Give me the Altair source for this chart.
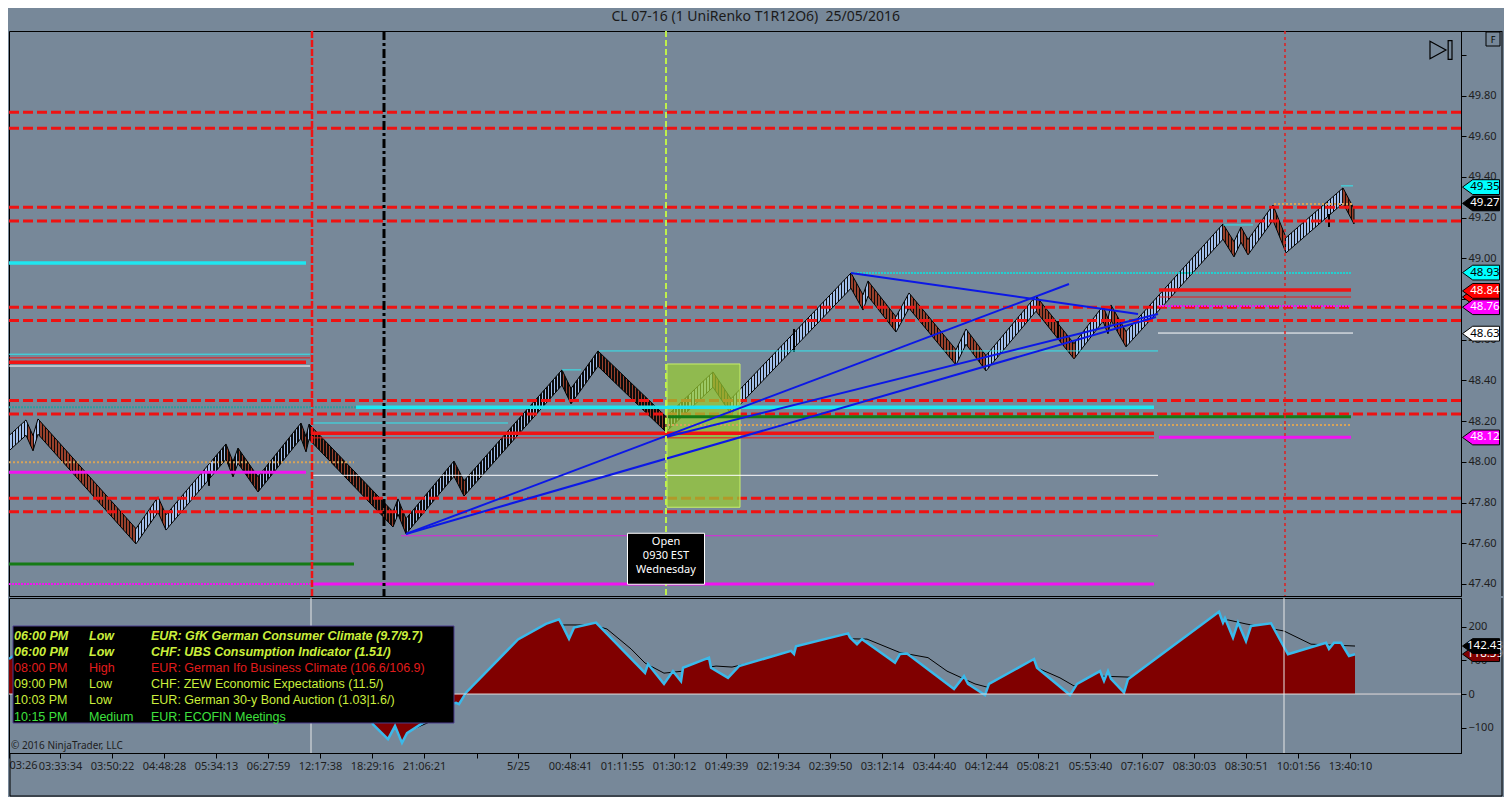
import altair as alt
import pandas as pd

FONT = "Noto Sans"
TFONT = "Liberation Sans"
BG = "#778899"

# ---------------- data (x = bar number, y = price) ----------------
# UniRenko swing pivots: alternating swing low / swing high closes
pivot_bar = [0, 5.67, 8.0, 9.67, 42.33, 49.67, 52.33, 72.33, 74.67, 76.33, 83.0, 97.33, 99.0, 100.0,
             128.0, 129.67, 132.33, 148.33, 151.67, 184.33, 187.33, 196.33, 219.0, 234.67, 240.67,
             280.67, 284.67, 286.33, 295.67, 300.0, 315.67, 319.0, 325.67, 342.33, 355.0, 364.67,
             366.33, 367.33, 372.33, 404.67, 408.33, 410.67, 413.0, 421.33, 425.67, 444.67, 448.33]
pivot_price = [48.054, 48.206, 48.054, 48.211, 47.597, 47.828, 47.665, 48.088, 47.926, 48.068,
               47.852, 48.191, 48.049, 48.186, 47.680, 47.818, 47.646, 48.004, 47.832, 48.452,
               48.285, 48.545, 48.147, 48.442, 48.235, 48.928, 48.746, 48.889, 48.638, 48.830,
               48.476, 48.653, 48.447, 48.815, 48.506, 48.766, 48.629, 48.771, 48.565, 49.169,
               49.007, 49.154, 49.017, 49.262, 49.027, 49.346, 49.169]
brick_height = 0.075

wick_bar = [66.67, 261.67, 349.67, 440.0]
wick_low = [47.882, 48.540, 48.604, 49.154]
wick_high = [47.955, 48.653, 48.692, 49.218]

# full-width dashed levels
dashed_levels = [49.718, 49.639, 49.251, 49.184, 48.760, 48.694, 48.301, 48.235, 47.821, 47.755]

# partial levels: (price, from bar, to bar)
cyan_thick = [(48.977, 0, 99), (48.268, 115.67, 381.67)]
cyan_thin = [(48.529, 0, 100.33), (48.191, 100.67, 166.33), (48.545, 196.67, 383),
             (48.452, 184.33, 190.67), (49.356, 444, 448), (49.164, 404.67, 414.67)]
cyan_dotted = [(48.928, 280.67, 447.33)]
teal_dotted = [(48.268, 0, 115.67)]
red_thick = [(48.489, 0, 99), (48.141, 100.67, 381.67), (48.845, 383.33, 447.33)]
red_thin = [(48.511, 0, 100.33), (48.118, 100.67, 381.67), (48.810, 383.33, 447.33)]
white_thin = [(48.471, 0, 100.33), (47.934, 100.67, 383), (48.633, 383, 448)]
magenta_thick = [(47.949, 0, 99), (47.400, 100.67, 381.67), (48.121, 383.33, 447.33)]
magenta_dotted = [(47.400, 0, 100.67), (48.766, 383.33, 447.33)]
magenta_thin = [(47.637, 130.67, 383)]
green_thick = [(47.498, 0, 115), (48.222, 219.67, 447.33)]
tan_dotted = [(47.998, 0, 115), (48.181, 219.67, 447.33), (49.267, 421.67, 448.33)]

# trend lines: (bar0, price0, bar1, price1)
trend_lines = [(132.33, 47.646, 353.33, 48.874), (132.33, 47.646, 382.33, 48.712),
               (219.0, 48.122, 383.0, 48.727), (280.67, 48.928, 376.33, 48.727)]

# vertical markers
session_red = [101.0]
session_black = [125.0]
open_bar = [219.0]
session_red_dotted = [425.33]
lower_white = [100.67, 425.0]

# opening-range box
box_bar = (219.33, 243.67)
box_price = (47.777, 48.481)

open_label_bar = 219.0
open_label_price = 47.524
open_label_lines = ["Open", "0930 EST", "Wednesday"]

# price markers on the right axis (drawn in this order; later ones on top)
tag_price = [49.35, 49.27, 48.93, 48.81, 48.84, 48.76, 48.63, 48.12]
tag_text = ["49.35", "49.27", "48.93", "", "48.84", "48.76", "48.63", "48.12"]
tag_kind = ["high", "last", "level", "r2", "r1", "pp", "session", "vwap"]

# lower panel oscillator
osc_bar = [0, 4, 9.67, 17.33, 27.33, 35.67, 42.33, 49.67, 52.33, 64, 72.33, 76.33, 83, 97.33, 100.67,
           110.67, 119, 121.33, 126.33, 128.67, 131, 132.67, 140.67, 147.33, 149, 150, 152.33,
           169.67, 179, 183.33, 184.67, 186.67, 188.33, 195.67, 212, 213, 218.33, 221.33, 224,
           224.67, 233.33, 234, 239.67, 243.33, 260.67, 261.67, 262.33, 279.67, 280.33, 282.67,
           284.33, 295.33, 297, 299.33, 315, 318.33, 319.67, 325.33, 326.67, 341.67, 342.67,
           353.67, 356, 363.67, 365, 366.33, 367.33, 371.67, 373, 403.33, 404.67, 405.33, 408,
           409.67, 412.33, 414, 420.67, 426.33, 439, 440, 441.67, 444, 446.67, 448.67]
osc_val = [104, 130, 150, 70, 0, -50, -80, -30, -55, 40, 90, 70, 20, 130, 100,
           30, -40, -90, -134, -95, -145, -116, -70, -30, -26, -30, 4,
           162, 208, 222, 200, 164, 197, 212, 63, 89, 30, 68, 38,
           78, 108, 78, 48, 83, 128, 119, 142, 180, 168, 148,
           163, 93, 119, 120, 15, 53, 30, -3, 30, 104, 78,
           -3, 30, 68, 39, 68, 45, 4, 44, 244, 212, 225, 167,
           212, 157, 202, 210, 118, 152, 134, 152, 152, 113, 118]
ma_bar = [0, 17.33, 42.33, 64, 97.33, 119, 132, 139.67, 154, 170.67, 184.67, 194.67, 199.33, 207.33,
          212, 218.33, 224.67, 235.67, 241, 260.67, 279.67, 286, 297, 306.33, 312.67, 322, 326.67,
          342.67, 350.33, 355, 364.33, 374, 384, 403.33, 406.33, 412.33, 425, 434, 448.67]
ma_val = [90, 120, 10, 10, 90, 20, -115, -85, 10, 130, 205, 205, 193, 134,
          92, 62, 68, 83, 80, 120, 164, 163, 123, 108, 68, 30, 19,
          78, 48, 24, 53, 50, 105, 215, 220, 208, 187, 148, 142.43]
osc_tag_val = [118.39, 142.43]
osc_tag_text = ["118.39", "142.43"]
osc_tag_kind = ["osc", "ma"]

# x-axis ticks
tick_bars = [0, 17, 34.33, 51.67, 69, 86.33, 103.67, 121, 138.33, 156, 169.67, 187, 204.33, 221.67,
             239, 256.33, 273.67, 291, 308.33, 325.67, 343, 360.33, 377.67, 395, 412.33, 429.67, 447]
tick_labels = ["03:26", "03:33:34", "03:50:22", "04:48:28", "05:34:13", "06:27:59", "12:17:38",
               "18:29:16", "21:06:21", "", "5/25", "00:48:41", "01:11:55", "01:30:12", "01:49:39",
               "02:19:34", "02:39:50", "03:12:14", "03:44:40", "04:12:44", "05:08:21", "05:53:40",
               "07:16:07", "08:30:03", "08:30:51", "10:01:56", "13:40:10"]

# economic calendar
ev_time = ["06:00 PM", "06:00 PM", "08:00 PM", "09:00 PM", "10:03 PM", "10:15 PM"]
ev_impact = ["Low", "Low", "High", "Low", "Low", "Medium"]
ev_text = ["EUR: GfK German Consumer Climate (9.7/9.7)",
           "CHF: UBS Consumption Indicator (1.51/)",
           "EUR: German Ifo Business Climate (106.6/106.9)",
           "CHF: ZEW Economic Expectations (11.5/)",
           "EUR: German 30-y Bond Auction (1.03|1.6/)",
           "EUR: ECOFIN Meetings"]

# ---------------- layout & scales ----------------
W = 1452
H_MAIN = 565
H_LOW = 155
FRAME_R = 1493
FRAME_B = 198
XSCALE = alt.Scale(domain=[0, 484], nice=False, zero=False)
YSCALE = alt.Scale(domain=[47.341, 50.117], nice=False, zero=False)
OSCALE = alt.Scale(domain=[-175, 285], nice=False, zero=False)

axis_style = dict(tickColor="black", tickSize=5, domainColor="black", domain=True, labelColor="#1e1e1e",
                  labelFont=FONT, labelFontSize=11, grid=False, title=None, labelOverlap=False)
YAXIS = alt.Axis(orient="right", values=[round(47.4 + 0.2 * i, 1) for i in range(14)],
                 labelExpr="datum.value > 49.9 ? '' : format(datum.value, '.2f')", labelPadding=2,
                 **axis_style)
OAXIS = alt.Axis(orient="right", values=[-100, 0, 100, 200], format="d", labelPadding=2, **axis_style)
# first label is drawn separately, left-aligned at the panel edge
lbl_expr = ("[" + ",".join(repr(s) for s in [""] + tick_labels[1:]) + "][indexof(["
            + ",".join(str(b) for b in tick_bars) + "], datum.value)]")
XAXIS = alt.Axis(orient="bottom", values=tick_bars, labelExpr=lbl_expr, labelPadding=2, **axis_style)


def xm(f):
    return alt.X(f, type="quantitative", scale=XSCALE, axis=None)


def xl(f):
    return alt.X(f, type="quantitative", scale=XSCALE, axis=XAXIS)


def ym(f):
    return alt.Y(f, type="quantitative", scale=YSCALE, axis=YAXIS)


def yl(f):
    return alt.Y(f, type="quantitative", scale=OSCALE, axis=OAXIS)


one = pd.DataFrame({"k": [0]})

# ---------------- main panel ----------------
main_layers = []

# renko band with hatch
tops, bots = [], []
for i, p in enumerate(pivot_price):
    if i % 2 == 0:
        tops.append(p + brick_height); bots.append(p)
    else:
        tops.append(p); bots.append(p - brick_height)
renko_df = pd.DataFrame({"bar": pivot_bar, "top": tops, "bot": bots})
UP_FILL, DN_FILL, HATCH = "#a2bfea", "#98402c", "#0c0c0c"
b0, b1 = pivot_bar[0], pivot_bar[-1]
n = int(round(b1 - b0))
stops = []
j = 0
for k in range(n):
    c = b0 + (k + 0.5) * (b1 - b0) / n
    while j < len(pivot_bar) - 2 and pivot_bar[j + 1] <= c:
        j += 1
    fill = UP_FILL if j % 2 == 0 else DN_FILL
    o0, o1, o2 = round(k / n, 6), round((k + 0.45) / n, 6), round((k + 1) / n, 6)
    stops += [{"offset": o0, "color": HATCH}, {"offset": o1, "color": HATCH},
              {"offset": o1, "color": fill}, {"offset": o2, "color": fill}]
grad = {"gradient": "linear", "x1": 0, "y1": 0, "x2": 1, "y2": 0, "stops": stops}
main_layers.append(alt.Chart(renko_df).mark_area(fill=grad, stroke="black", strokeWidth=1, opacity=1, clip=True)
                   .encode(x=xm("bar"), y=ym("top"), y2="bot"))

wick_df = pd.DataFrame({"bar": wick_bar, "lo": wick_low, "hi": wick_high})
main_layers.append(alt.Chart(wick_df).mark_rule(color="black", strokeWidth=2, clip=True)
                   .encode(x=xm("bar"), y=ym("lo"), y2="hi"))

main_layers.append(alt.Chart(pd.DataFrame({"price": dashed_levels}))
                   .mark_rule(color="#ee1212", strokeWidth=3, strokeDash=[10, 4], clip=True)
                   .encode(y=ym("price")))

box_df = pd.DataFrame({"b0": [box_bar[0]], "b1": [box_bar[1]], "p0": [box_price[0]], "p1": [box_price[1]]})
main_layers.append(alt.Chart(box_df).mark_rect(fill="#9acd32", fillOpacity=0.72, stroke="#c8f06a",
                                               strokeWidth=1, clip=True)
                   .encode(x=xm("b0"), x2="b1", y=ym("p0"), y2="p1"))


def seg_layer(segs, color, width, dash=None):
    df = pd.DataFrame(segs, columns=["price", "b0", "b1"])
    kw = dict(color=color, strokeWidth=width, clip=True)
    if dash:
        kw["strokeDash"] = dash
    return alt.Chart(df).mark_rule(**kw).encode(x=xm("b0"), x2="b1", y=ym("price"))


main_layers += [
    seg_layer(teal_dotted, "#2a9d9d", 2, [2, 1]),
    seg_layer(tan_dotted, "#d9a458", 2, [2, 2]),
    seg_layer(green_thick, "#157a15", 3),
    seg_layer(magenta_thin, "#e020e0", 1),
    seg_layer(magenta_dotted, "#f014f0", 2, [2, 1]),
    seg_layer(magenta_thick, "#f014f0", 3),
    seg_layer(white_thin, "#ffffff", 1),
    seg_layer(red_thin, "#f01818", 1),
    seg_layer(red_thick, "#f01414", 3.5),
    seg_layer(cyan_dotted, "#22d0d0", 2, [2, 1]),
    seg_layer(cyan_thin, "#30e8f0", 1),
    seg_layer(cyan_thick, "#1ee6f0", 3.5),
]

tl_df = pd.DataFrame(trend_lines, columns=["b0", "p0", "b1", "p1"])
main_layers.append(alt.Chart(tl_df).mark_rule(color="#0c18e6", strokeWidth=2, clip=True)
                   .encode(x=xm("b0"), y=ym("p0"), x2="b1", y2="p1"))


def vline(bars, color, width, dash=None, xf=xm):
    kw = dict(color=color, strokeWidth=width, clip=True)
    if dash:
        kw["strokeDash"] = dash
    return alt.Chart(pd.DataFrame({"bar": bars})).mark_rule(**kw).encode(x=xf("bar"))


main_layers += [
    vline(session_red, "#ee1414", 2.5, [7, 2]),
    vline(session_black, "#000000", 3, [9, 3, 3, 3]),
    vline(open_bar, "#bff04a", 2, [6, 3]),
    vline(session_red_dotted, "#e02020", 1.5, [3, 3]),
]

# open label
BOX_PATH = "M-1,-0.662L1,-0.662L1,0.662L-1,0.662Z"
ol_df = pd.DataFrame({"bar": [open_label_bar], "price": [open_label_price], "txt": [open_label_lines]})
main_layers.append(alt.Chart(ol_df).mark_point(shape=BOX_PATH, size=77 * 77, filled=True, fill="black",
                                               stroke="white", strokeWidth=1, opacity=1)
                   .encode(x=xm("bar"), y=ym("price")))
main_layers.append(alt.Chart(ol_df).mark_text(color="white", font=FONT, fontSize=11, lineHeight=14,
                                              baseline="middle", align="center", dy=-17)
                   .encode(x=xm("bar"), y=ym("price"), text="txt"))

# price tags, each drawn with its text before the next one
TAG_PATH = "M-1,0L-0.45,-0.4L1,-0.4L1,0.4L-0.45,0.4Z"
TAG_FILL = {"high": "#00ffff", "last": "#000000", "level": "#00ffff", "r2": "#ff0000", "r1": "#ff0000",
            "pp": "#ff00ff", "session": "#ffffff", "vwap": "#ff00ff", "osc": "#800000", "ma": "#000000"}
TAG_TEXT = {"high": "#000000", "last": "#ffffff", "level": "#000000", "r2": "#ffffff", "r1": "#ffffff",
            "pp": "#ffffff", "session": "#000000", "vwap": "#ffffff", "osc": "#ffffff", "ma": "#ffffff"}


def tag_layers(vals, texts, kinds_, yfun, field):
    out = []
    for v, t, kd in zip(vals, texts, kinds_):
        d = pd.DataFrame({field: [v], "txt": [t]})
        out.append(alt.Chart(d).mark_point(shape=TAG_PATH, size=37 * 37, filled=True, fill=TAG_FILL[kd],
                                           stroke="black", strokeWidth=1, opacity=1)
                   .encode(x=alt.value(1472), y=yfun(field)))
        if t:
            out.append(alt.Chart(d).mark_text(font=FONT, fontSize=11.5, baseline="middle", align="center",
                                              color=TAG_TEXT[kd])
                       .encode(x=alt.value(1476), y=yfun(field), text="txt:N"))
    return out


main_layers += tag_layers(tag_price, tag_text, tag_kind, ym, "price")

# icons and frame
PLAY_PATH = "M-1,-0.8L0.45,0L-1,0.8Z M0.65,-0.85L1,-0.85L1,0.85L0.65,0.85Z"
main_layers.append(alt.Chart(one).mark_point(shape=PLAY_PATH, size=22 * 22, filled=False, color="black",
                                             strokeWidth=1.2, opacity=1)
                   .encode(x=alt.value(1432), y=alt.value(19)))
main_layers.append(alt.Chart(one).mark_point(shape="square", size=14 * 14, filled=False, color="black",
                                             strokeWidth=1, opacity=1)
                   .encode(x=alt.value(1484), y=alt.value(8)))
main_layers.append(alt.Chart(pd.DataFrame({"t": ["F"]})).mark_text(font=FONT, fontSize=9, color="black")
                   .encode(x=alt.value(1484), y=alt.value(8.5), text="t:N"))
main_layers.append(alt.Chart(one).mark_rule(color="black", strokeWidth=1)
                   .encode(x=alt.value(W), x2=alt.value(FRAME_R), y=alt.value(0.5)))
main_layers.append(alt.Chart(one).mark_rule(color="black", strokeWidth=1)
                   .encode(x=alt.value(FRAME_R), y=alt.value(0), y2=alt.value(H_MAIN)))

main = alt.layer(*main_layers).properties(width=W, height=H_MAIN)

# ---------------- lower panel ----------------
low_layers = []
osc_df = pd.DataFrame({"bar": osc_bar, "v": osc_val})
ma_df = pd.DataFrame({"bar": ma_bar, "v": ma_val})
low_layers.append(alt.Chart(ma_df).mark_line(color="black", strokeWidth=1, clip=True)
                  .encode(x=xl("bar"), y=yl("v")))
low_layers.append(alt.Chart(osc_df).mark_area(color="#800000", opacity=1, clip=True)
                  .encode(x=xl("bar"), y=yl("v"), y2=alt.datum(0)))
low_layers.append(alt.Chart(osc_df).mark_line(color="#3bb9ea", strokeWidth=2.5, clip=True)
                  .encode(x=xl("bar"), y=yl("v")))
low_layers.append(alt.Chart(one).mark_rule(color="#e4dcdc", strokeWidth=1, clip=True).encode(y=alt.datum(0)))
low_layers.append(vline(lower_white, "#e8e8e8", 1, xf=xl))

low_layers += tag_layers(osc_tag_val, osc_tag_text, osc_tag_kind, yl, "v")

# calendar box
low_layers.append(alt.Chart(one).mark_rect(fill="black", stroke="#4a3c8c", strokeWidth=1)
                  .encode(x=alt.value(4), x2=alt.value(445), y=alt.value(28), y2=alt.value(125)))
impact_color = {"Low": "#cbef3c", "High": "#e01c1c", "Medium": "#3ee03e"}
for i in range(len(ev_time)):
    row = pd.DataFrame({"t": [ev_time[i]], "imp": [ev_impact[i]], "ev": [ev_text[i]]})
    style = dict(font=TFONT, fontSize=12.5, color=impact_color[ev_impact[i]], baseline="middle", align="left")
    if i < 2:
        style.update(fontStyle="italic", fontWeight="bold")
    yy = 38 + 16.1 * i
    for col, xx in (("t", 5), ("imp", 80), ("ev", 142)):
        low_layers.append(alt.Chart(row).mark_text(**style)
                          .encode(x=alt.value(xx), y=alt.value(yy), text=col + ":N"))

low_layers.append(alt.Chart(pd.DataFrame({"t": ["\u00a9 2016 NinjaTrader, LLC"]}))
                  .mark_text(font=FONT, fontSize=10, color="#1e1e1e", align="left", baseline="middle")
                  .encode(x=alt.value(2), y=alt.value(148), text="t:N"))
low_layers.append(alt.Chart(pd.DataFrame({"t": [tick_labels[0]]}))
                  .mark_text(font=FONT, fontSize=11, color="#1e1e1e", align="left", baseline="top")
                  .encode(x=alt.value(0.5), y=alt.value(H_LOW + 7), text="t:N"))

# outer frame
low_layers.append(alt.Chart(one).mark_rule(color="black", strokeWidth=1)
                  .encode(x=alt.value(FRAME_R), y=alt.value(0), y2=alt.value(FRAME_B)))
low_layers.append(alt.Chart(one).mark_rule(color="black", strokeWidth=1)
                  .encode(x=alt.value(1), x2=alt.value(FRAME_R), y=alt.value(FRAME_B)))
low_layers.append(alt.Chart(one).mark_rule(color="black", strokeWidth=1)
                  .encode(x=alt.value(1), y=alt.value(H_LOW), y2=alt.value(FRAME_B)))

lower = alt.layer(*low_layers).properties(width=W, height=H_LOW)

chart = (alt.vconcat(main, lower, spacing=0)
         .resolve_scale(x="independent", y="independent")
         .properties(title=alt.TitleParams("CL 07-16 (1 UniRenko T1R12O6)\u00a0\u00a025/05/2016",
                                           font=FONT, fontSize=14, fontWeight="normal", color="#1a1a1a",
                                           anchor="middle", offset=5.5),
                     background=BG, padding={"left": 0, "top": 2, "right": 0, "bottom": 0})
         .configure_view(stroke="black", strokeWidth=1))

chart.save("out.html", embed_options={"renderer": "svg", "actions": False})
